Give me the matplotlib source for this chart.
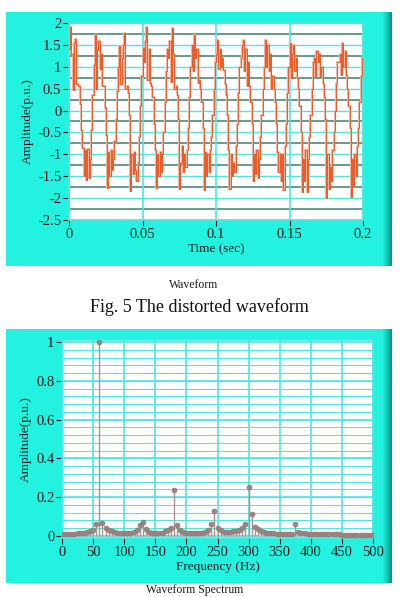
import numpy as np
import matplotlib
matplotlib.use("Agg")
import matplotlib.pyplot as plt
from matplotlib.patches import Rectangle
from matplotlib.colors import LinearSegmentedColormap

# waveform samples, 20 samples per 60 Hz cycle
wave_cycles = [
    [1.40, 1.92, 1.30, 0.47, 1.55, 1.63, 0.60, 0.55, 0.55, 0.15, -0.45, -0.85, -1.50, -0.90, -1.58, -0.88, -1.55, -1.10, -0.45, 0.35],
    [1.05, 1.73, 0.50, 1.39, 1.58, 0.95, 1.30, 0.55, 0.55, 0.05, -0.55, -1.78, -0.95, -1.50, -0.90, -1.35, -1.10, -0.70, -0.20, 0.45],
    [1.00, 1.47, 0.60, 1.20, 1.50, 1.77, 0.50, 0.55, 0.40, -0.10, -1.83, -1.00, -1.45, -0.95, -1.35, -1.60, -1.20, -0.60, 0.10, 0.80],
    [1.43, 1.10, 1.60, 1.92, 0.70, 1.40, 0.63, 0.55, 0.30, -0.30, -0.90, -1.78, -1.00, -1.50, -0.95, -1.40, -1.00, -0.50, 0.20, 0.90],
    [1.40, 1.20, 1.60, 0.65, 1.89, 1.30, 0.50, 0.55, 0.35, -0.20, -1.79, -1.20, -0.80, -1.40, -1.00, -1.30, -0.90, -0.40, 0.30, 1.00],
    [1.50, 0.90, 1.73, 1.20, 1.40, 0.63, 0.70, 0.50, 0.20, -0.40, -1.81, -0.95, -1.50, -1.00, -1.40, -0.90, -0.60, -0.10, 0.50, 1.10],
    [1.30, 1.62, 0.95, 1.40, 1.00, 1.20, 0.93, 0.60, 0.35, -0.10, -0.90, -1.79, -1.00, -1.50, -1.20, -1.40, -0.80, -0.30, 0.40, 1.00],
    [1.20, 1.50, 1.62, 0.90, 1.40, 0.55, 1.10, 0.55, 0.20, -0.30, -1.62, -1.00, -1.45, -0.90, -1.55, -1.10, -0.60, -0.10, 0.50, 1.00],
    [1.62, 1.00, 1.50, 0.90, 1.30, 0.50, 0.80, 0.50, 0.20, -0.30, -0.95, -1.40, -1.00, -1.60, -1.00, -1.81, -0.80, -0.30, 0.40, 1.00],
    [1.54, 0.74, 1.30, 1.50, 0.90, 1.20, 0.74, 0.50, 0.10, -0.50, -1.85, -1.10, -1.60, -0.90, -1.85, -1.10, -0.60, -0.10, 0.50, 1.10],
    [1.20, 0.78, 1.35, 1.10, 1.30, 0.80, 1.00, 0.60, 0.30, -0.20, -2.00, -1.00, -1.80, -1.30, -1.60, -0.90, -0.50, 0.00, 0.60, 1.10],
    [1.10, 1.30, 0.82, 1.54, 1.00, 1.35, 0.82, 0.50, 0.10, -0.40, -1.97, -1.10, -1.70, -1.00, -1.50, -0.80, -0.40, 0.20, 0.80, 1.20],
]
wave_end = 1.39
t_end = 0.2

# spectrum, 5 Hz bins from 0 to 500 Hz
freq = list(range(0, 505, 5))
amp = [0.012, 0.012, 0.012, 0.012, 0.012, 0.013, 0.014, 0.016, 0.020, 0.025,   # 0-45
       0.032, 0.062, 1.000, 0.066, 0.040, 0.030, 0.024, 0.020, 0.018, 0.016,   # 50-95
       0.015, 0.016, 0.018, 0.022, 0.030, 0.055, 0.072, 0.035, 0.022, 0.016,   # 100-145
       0.014, 0.015, 0.018, 0.024, 0.032, 0.042, 0.235, 0.055, 0.030, 0.020,   # 150-195
       0.016, 0.015, 0.015, 0.015, 0.016, 0.018, 0.022, 0.030, 0.060, 0.128,   # 200-245
       0.040, 0.030, 0.022, 0.020, 0.022, 0.025, 0.028, 0.032, 0.040, 0.060,   # 250-295
       0.255, 0.115, 0.048, 0.035, 0.028, 0.022, 0.018, 0.015, 0.013, 0.012,   # 300-345
       0.012, 0.012, 0.012, 0.012, 0.012, 0.062, 0.022, 0.016, 0.013, 0.012,   # 350-395
       0.012, 0.012, 0.012, 0.012, 0.012, 0.012, 0.012, 0.012, 0.012, 0.012,   # 400-445
       0.007, 0.007, 0.007, 0.007, 0.007, 0.007, 0.007, 0.007, 0.007, 0.007,   # 450-495
       0.007]                                                                  # 500

wave_yticks = [2, 1.5, 1, 0.5, 0, -0.5, -1, -1.5, -2, -2.5]
wave_ylabels = ["2", "1.5", "1", "0.5", "0", "-0.5", "-1", "-1.5", "-2", "-2.5"]
wave_xticks = [0, 0.05, 0.1, 0.15, 0.2]
wave_xlabels = ["0", "0.05", "0.1", "0.15", "0.2"]
spec_xticks = list(range(0, 550, 50))
spec_yticks = [0, 0.2, 0.4, 0.6, 0.8, 1]
spec_ylabels = ["0", "0.2", "0.4", "0.6", "0.8", "1"]

W, H = 405, 597
CYAN = "#22F2DF"
GRID = "#4FE6E2"
DARK = "#4A8A7C"
TXT = "#1c1c1c"
SERIF = ["Liberation Serif", "DejaVu Serif"]
plt.rcParams["font.family"] = SERIF


def fx(px):
    return px / W


def fy(py):
    return 1 - py / H


def panel(fig, top, bottom):
    fig.add_artist(Rectangle((fx(6), fy(bottom)), fx(386), (bottom - top) / H,
                             transform=fig.transFigure, facecolor=CYAN,
                             edgecolor="none", zorder=0))
    # darker shading on the right edge of the panel
    edge = fig.add_axes([fx(382), fy(bottom), fx(10), (bottom - top) / H], zorder=0.5)
    cmap = LinearSegmentedColormap.from_list("edge", [CYAN, "#17C9B8", "#0C8F82"])
    edge.imshow(np.linspace(0, 1, 20)[None, :], aspect="auto", cmap=cmap)
    edge.axis("off")


def style_axes(ax):
    for s in ax.spines.values():
        s.set_color(GRID)
        s.set_linewidth(1.2)
    ax.tick_params(axis="both", colors=TXT, labelsize=10.5, length=4, width=0.8,
                   direction="out", pad=1.5)
    ax.tick_params(axis="both", which="minor", length=0)
    ax.set_facecolor("white")


fig = plt.figure(figsize=(W / 100, H / 100), dpi=100)
fig.patch.set_facecolor("white")

# ---- top panel : waveform
panel(fig, 12, 266)
ax1 = fig.add_axes([fx(69), fy(220), fx(294), 197 / H], zorder=1)
style_axes(ax1)
wave = [v for c in wave_cycles for v in c] + [wave_end]
dt = t_end / (len(wave) - 1)
t = np.arange(len(wave)) * dt
for yv in np.arange(-2.25, 2.0, 0.5):
    ax1.axhline(yv, color=DARK, lw=1.2, zorder=1)
for yv in wave_yticks:
    ax1.axhline(yv, color=GRID, lw=1.0, zorder=1)
for xv in wave_xticks:
    ax1.axvline(xv, color=GRID, lw=1.2, zorder=1)
ax1.step(t, wave, where="post", color="#F8B49A", lw=1.5, zorder=2)
ax1.step(t, wave, where="post", color="#EF5A28", lw=0.7, zorder=3)
ax1.set_xlim(0, 0.2)
ax1.set_ylim(-2.5, 2.0)
ax1.set_yticks(wave_yticks)
ax1.set_yticklabels(wave_ylabels)
ax1.set_xticks(wave_xticks)
ax1.set_xticklabels(wave_xlabels)
ax1.set_xlabel("Time (sec)", fontsize=9.5, color=TXT, labelpad=2)
ax1.set_ylabel("Amplitude(p.u.)", fontsize=9.5, color=TXT, labelpad=3)

fig.text(fx(194), fy(285), "Waveform", ha="center", va="center", fontsize=8.5, color=TXT)
fig.text(fx(199), fy(307), "Fig. 5 The distorted waveform", ha="center", va="center",
         fontsize=13, color="#111111")

# ---- bottom panel : spectrum
panel(fig, 329, 583)
ax2 = fig.add_axes([fx(62), fy(538), fx(311), 198 / H], zorder=1)
style_axes(ax2)
for yv in np.arange(0.04, 1.0, 0.04):
    ax2.axhline(yv, color=GRID, lw=0.8, zorder=1)
for yv in spec_yticks:
    ax2.axhline(yv, color=GRID, lw=1.2, zorder=1)
for xv in spec_xticks:
    ax2.axvline(xv, color=GRID, lw=1.2, zorder=1)
ax2.vlines(freq, 0, amp, color="#A8948F", lw=1.0, zorder=2)
ax2.plot(freq, amp, "o", ms=3.6, color="#9A8784", mec="#86736F", mew=0.4, zorder=4)
ax2.set_xlim(0, 500)
ax2.set_ylim(-0.0103, 1.0103)
ax2.set_xticks(spec_xticks)
ax2.set_yticks(spec_yticks)
ax2.set_yticklabels(spec_ylabels)
ax2.set_xlabel("Frequency (Hz)", fontsize=9.5, color=TXT, labelpad=2)
ax2.set_ylabel("Amplitude(p.u.)", fontsize=9.5, color=TXT, labelpad=3)

fig.text(fx(195), fy(596), "Waveform Spectrum", ha="center", va="bottom", fontsize=8.5, color=TXT)

fig.savefig("out.png", dpi=100, facecolor="white")
